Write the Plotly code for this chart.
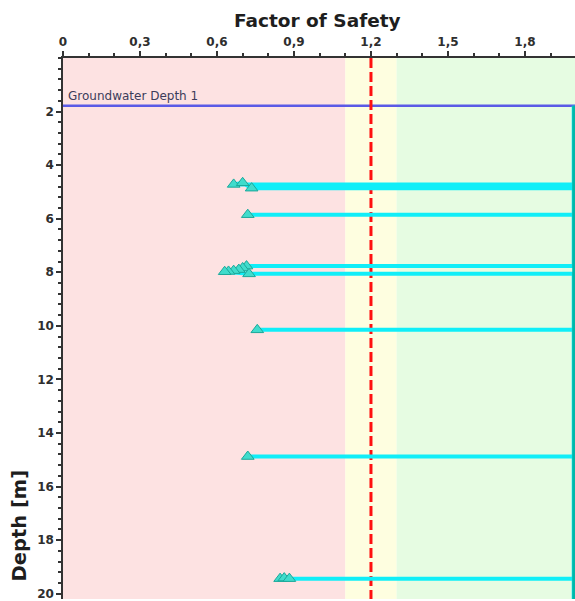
import plotly.graph_objects as go

# ---- data ----
fos_ticks = [0, 0.3, 0.6, 0.9, 1.2, 1.5, 1.8]
depth_ticks = [2, 4, 6, 8, 10, 12, 14, 16, 18, 20]

zone_limits = [0.0, 1.1, 1.3, 2.0]          # unsafe / marginal / safe
zone_colors = ["#fde2e2", "#fefee0", "#e6fce2"]
target_fos = 1.2
gw_depth = 1.78
max_depth = 20.2
fos_cap = 1.99

# liquefiable layers (low points of the FoS profile)
low_group = [1, 1, 1, 2, 3, 3, 3, 3, 3, 3, 3, 4, 5, 6, 6, 6]
low_depth = [4.72, 4.66, 4.86, 5.85, 7.77, 7.84, 7.90, 7.94, 7.97, 7.98, 8.06,
             10.15, 14.88, 19.44, 19.42, 19.44]
low_fos = [0.665, 0.70, 0.735, 0.72, 0.715, 0.70, 0.685, 0.665, 0.645, 0.63, 0.725,
           0.757, 0.72, 0.846, 0.862, 0.882]

# ---- build the FoS profile (values above the cap plotted at the cap) ----
prof_x, prof_y = [fos_cap], [gw_depth]
groups = []
for g, d, f in zip(low_group, low_depth, low_fos):
    if not groups or groups[-1][0] != g:
        groups.append((g, []))
    groups[-1][1].append((d, f))
for g, pts in groups:
    prof_x.append(fos_cap); prof_y.append(pts[0][0])
    for d, f in pts:
        prof_x.append(f); prof_y.append(d)
    prof_x.append(fos_cap); prof_y.append(pts[-1][0])
prof_x.append(fos_cap); prof_y.append(max_depth)

fig = go.Figure()

# zone backgrounds
for i, c in enumerate(zone_colors):
    fig.add_shape(type="rect", xref="x", yref="paper",
                  x0=zone_limits[i], x1=zone_limits[i + 1], y0=0, y1=1,
                  fillcolor=c, line_width=0, layer="below")

# groundwater line
fig.add_trace(go.Scatter(x=[0, zone_limits[-1]], y=[gw_depth, gw_depth], mode="lines",
                         line=dict(color="#5a5ae6", width=2.5), hoverinfo="skip"))

# target FoS line
fig.add_trace(go.Scatter(x=[target_fos, target_fos], y=[0, max_depth], mode="lines",
                         line=dict(color="#ff1010", width=3, dash="10px,4px"),
                         hoverinfo="skip"))

# FoS profile
fig.add_trace(go.Scatter(x=prof_x, y=prof_y, mode="lines",
                         line=dict(color="#10eef8", width=4)))
fig.add_trace(go.Scatter(x=[fos_cap, fos_cap], y=[gw_depth, max_depth], mode="lines",
                         line=dict(color="#00b8aa", width=3)))

# markers at low points
fig.add_trace(go.Scatter(x=low_fos, y=low_depth, mode="markers",
                         marker=dict(symbol="triangle-up", size=11, color="#40dccc",
                                     line=dict(color="#1aa89a", width=1))))

fig.add_annotation(x=0, y=gw_depth, xref="x", yref="y", text="Groundwater Depth 1",
                   showarrow=False, xanchor="left", yanchor="bottom", xshift=3, yshift=1,
                   font=dict(family="DejaVu Sans", size=12, color="#3c3c5a"))

fig.add_annotation(x=0.498, y=1, xref="paper", yref="paper", text="<b>Factor of Safety</b>",
                   showarrow=False, xanchor="center", yanchor="middle", yshift=38,
                   font=dict(family="DejaVu Sans", size=18.5, color="#1e1e1e"))
fig.add_annotation(x=0, y=0.136, xref="paper", yref="paper", text="<b>Depth [m]</b>",
                   showarrow=False, textangle=-90, xanchor="center", yanchor="middle",
                   xshift=-44, font=dict(family="DejaVu Sans", size=19.5, color="#1e1e1e"))

axis_font = dict(family="DejaVu Sans", size=12, color="#2e2e2e", weight="bold")
fig.update_xaxes(side="top", range=[0, 1.995], tickmode="array", tickvals=fos_ticks,
                 ticks="outside", ticklen=5, tickwidth=1.5, tickcolor="#333",
                 showline=True, linecolor="#333", linewidth=1.5, showgrid=False,
                 zeroline=False, tickfont=axis_font, ticklabeloverflow="allow",
                 minor=dict(tickmode="linear", tick0=0, dtick=0.1, ticks="outside",
                            ticklen=3, tickcolor="#333", showgrid=False))
fig.update_yaxes(range=[max_depth, 0], tickmode="array", tickvals=depth_ticks,
                 ticks="outside", ticklen=5, tickwidth=1.5, tickcolor="#333",
                 showline=True, linecolor="#333", linewidth=1.5, showgrid=False,
                 zeroline=False, tickfont=axis_font, ticklabeloverflow="allow",
                 minor=dict(tickmode="linear", tick0=0, dtick=0.4, ticks="outside",
                            ticklen=3, tickcolor="#333", showgrid=False))

fig.update_layout(width=575, height=601, margin=dict(l=63, r=0, t=58, b=0),
                  paper_bgcolor="white", plot_bgcolor="white", showlegend=False,
                  separators=",.", font=dict(family="DejaVu Sans"))

fig.write_html("out.html")
